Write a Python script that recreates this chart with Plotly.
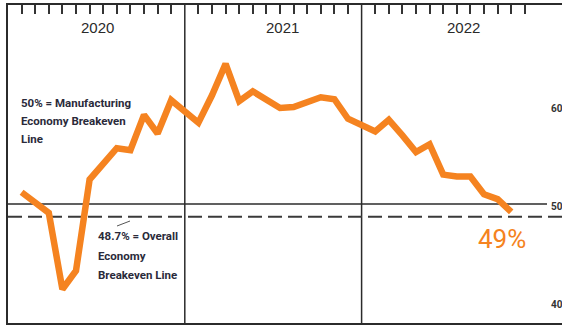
import plotly.graph_objects as go

# ---- data ----
years = [2020, 2021, 2022]
pmi_2020 = [51.2, 50.1, 49.1, 41.3, 43.2, 52.5, 54.0, 55.7, 55.5, 59.1, 57.2, 60.6]
pmi_2021 = [58.3, 61.1, 64.3, 60.5, 61.5, 60.7, 59.8, 59.9, 60.4, 60.9, 60.7, 58.7]
pmi_2022 = [57.4, 58.6, 57.0, 55.3, 56.1, 53.0, 52.8, 52.8, 51.0, 50.5, 49.2]
year_labels = ["2020", "2021", "2022"]
axis_labels = [60, 50, 40]
mfg_breakeven = 50
overall_breakeven = 48.7
last_label = "49%"

# positions: each year occupies 13 slots (12 months + year divider)
series = [pmi_2020, pmi_2021, pmi_2022]
xs, ys = [], []
for yi, vals in enumerate(series):
    for m, v in enumerate(vals, start=1):
        xs.append(13 * yi + m)
        ys.append(v)
tick_positions = [13 * yi + m for yi in range(3) for m in range(1, 13)]

W, H = 562, 325
L, R, T, B = 8, 0, 5, 2
PW, PH = W - L - R, H - T - B
XMAX = PW / 13.6
YMIN, YMAX = 37.86, 70.31


def px(x):
    return (x - L) / PW


def py(y):
    return 1 - (y - T) / PH


ORANGE = "rgb(245,131,32)"
DARK = "#2b2b2b"
NARROW = "Roboto, Liberation Sans Narrow, sans-serif"

fig = go.Figure()
fig.add_trace(go.Scatter(
    x=xs, y=ys, mode="lines",
    line=dict(color=ORANGE, width=6.5),
    hoverinfo="skip", showlegend=False,
))

shapes = []
for d in (13, 26):
    shapes.append(dict(type="line", xref="x", yref="paper", x0=d, x1=d, y0=0, y1=1,
                       line=dict(color=DARK, width=1.5), layer="below"))
shapes.append(dict(type="line", xref="paper", yref="y", x0=0, x1=px(547),
                   y0=mfg_breakeven, y1=mfg_breakeven,
                   line=dict(color=DARK, width=1.5), layer="below"))
shapes.append(dict(type="line", xref="paper", yref="y", x0=0, x1=1.02,
                   y0=overall_breakeven, y1=overall_breakeven,
                   line=dict(color="#3a3a3a", width=2, dash="14px,6px"), layer="below"))
shapes.append(dict(type="line", xref="paper", yref="paper", x0=px(117), x1=px(130),
                   y0=py(226), y1=py(221), line=dict(color="#555", width=1)))

annotations = []
year_centers = [97, 282, 463]
for lbl, cx in zip(year_labels, year_centers):
    annotations.append(dict(text=lbl, xref="paper", yref="paper", x=px(cx), y=py(28),
                            xanchor="center", yanchor="middle", showarrow=False,
                            font=dict(family="Liberation Sans, Arial, sans-serif", size=15,
                                      color="#2a2a2a")))

block1 = ["<b>50% = Manufacturing</b>", "<b>Economy Breakeven</b>", "<b>Line</b>"]
for t, yy in zip(block1, [103, 121, 139]):
    annotations.append(dict(text=t, xref="paper", yref="paper", x=px(19), y=py(yy),
                            xanchor="left", yanchor="middle", showarrow=False,
                            font=dict(family=NARROW, size=11.5, color="#2a2a3a")))
block2 = ["<b>48.7% = Overall</b>", "<b>Economy</b>", "<b>Breakeven Line</b>"]
for t, yy in zip(block2, [236, 256, 275]):
    annotations.append(dict(text=t, xref="paper", yref="paper", x=px(96), y=py(yy),
                            xanchor="left", yanchor="middle", showarrow=False,
                            font=dict(family=NARROW, size=11.5, color="#2a2a3a")))

for v in axis_labels:
    annotations.append(dict(text="<b>%d</b>" % v, xref="paper", yref="y", x=px(549), y=v,
                            yshift=-2, xanchor="left", yanchor="middle", showarrow=False,
                            font=dict(family=NARROW, size=10, color="#333")))

annotations.append(dict(text=last_label, xref="paper", yref="paper", x=px(502), y=py(238.5),
                        xanchor="center", yanchor="middle", showarrow=False,
                        font=dict(family=NARROW, size=26, color=ORANGE)))

fig.update_layout(
    width=W, height=H,
    margin=dict(l=L, r=R, t=T, b=B, pad=0),
    paper_bgcolor="white", plot_bgcolor="white",
    showlegend=False,
    shapes=shapes, annotations=annotations,
    xaxis=dict(range=[0, XMAX], side="top", showgrid=False, zeroline=False,
               showline=True, linecolor=DARK, linewidth=2, mirror=True,
               tickmode="array", tickvals=tick_positions, ticks="inside",
               ticklen=9, tickwidth=2, tickcolor="#333", showticklabels=False),
    yaxis=dict(range=[YMIN, YMAX], showgrid=False, zeroline=False,
               showline=True, linecolor=DARK, linewidth=1.5, mirror=False,
               showticklabels=False, ticks=""),
)

fig.write_html("out.html")
